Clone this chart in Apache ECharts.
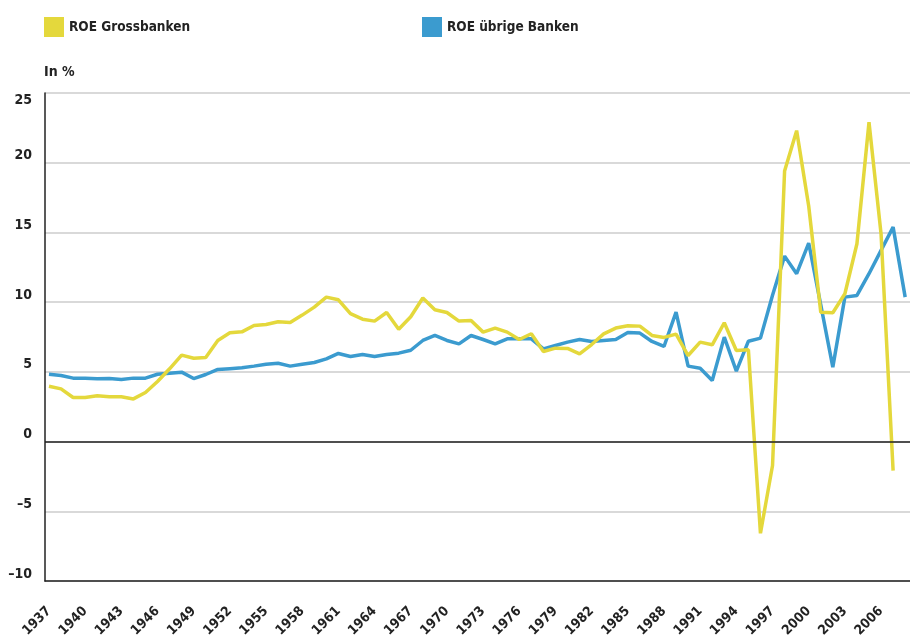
<!DOCTYPE html>
<html lang="de">

<head>
    <meta charset="UTF-8">
    <title>ROE Grossbanken / übrige Banken</title>
    <script src="https://cdn.jsdelivr.net/npm/echarts@6.0.0/dist/echarts.min.js"></script>
    <style>
        html, body { margin: 0; padding: 0; background: #fff; }
        #chart { width: 910px; height: 641px; }
    </style>
</head>

<body>
    <div id="chart"></div>
    <script>
        // Jahre 1937–2008
        var years = [];
        for (var y = 1937; y <= 2008; y++) years.push(y);

        // ROE Grossbanken, in %
        var roeGross = [
            3.97, 3.78, 3.16, 3.16, 3.28, 3.21, 3.21, 3.06, 3.52, 4.31,
            5.22, 6.20, 5.98, 6.03, 7.25, 7.80, 7.87, 8.33, 8.40, 8.59,
            8.54, 9.07, 9.64, 10.36, 10.17, 9.17, 8.78, 8.64, 9.26, 8.06,
            8.95, 10.30, 9.45, 9.26, 8.64, 8.69, 7.85, 8.14, 7.85, 7.32,
            7.73, 6.46, 6.70, 6.68, 6.29, 6.96, 7.72, 8.14, 8.30, 8.28,
            7.61, 7.47, 7.71, 6.17, 7.13, 6.94, 8.52, 6.53, 6.58, -6.58,
            -1.72, 19.4, 22.3, 16.9, 9.28, 9.24, 10.6, 14.19, 22.9, 14.9,
            -2.08, null
        ];

        // ROE übrige Banken, in %
        var roeOther = [
            4.83, 4.74, 4.55, 4.55, 4.50, 4.52, 4.45, 4.55, 4.55, 4.83,
            4.90, 4.98, 4.52, 4.81, 5.17, 5.23, 5.29, 5.41, 5.55, 5.62,
            5.41, 5.55, 5.67, 5.93, 6.32, 6.10, 6.25, 6.10, 6.25, 6.34,
            6.55, 7.25, 7.61, 7.25, 7.01, 7.61, 7.32, 7.01, 7.37, 7.37,
            7.37, 6.65, 6.89, 7.13, 7.32, 7.18, 7.25, 7.32, 7.82, 7.78,
            7.18, 6.82, 9.28, 5.41, 5.26, 4.38, 7.49, 5.05, 7.20, 7.42,
            10.5, 13.3, 12.04, 14.24, 9.8, 5.34, 10.36, 10.48, 12.04, 13.71,
            15.38, 10.36
        ];

        // Beschriftete Jahre auf der x-Achse
        var tickYears = [1937, 1940, 1943, 1946, 1949, 1952, 1955, 1958, 1961, 1964, 1967, 1970,
            1973, 1976, 1979, 1982, 1985, 1988, 1991, 1994, 1997, 2000, 2003, 2006];

        var FONT = "'Liberation Sans Narrow', 'DejaVu Sans Condensed', 'Roboto Condensed', sans-serif";
        var YELLOW = '#e4d83c';
        var BLUE = '#3b9bcf';

        function pairs(vals) {
            return years.map(function (yr, i) { return [yr, vals[i]]; });
        }

        var legendText = { fontSize: 13.5, fontWeight: 'bold', color: '#222', fontFamily: FONT };

        var chart = echarts.init(document.getElementById('chart'));
        chart.setOption({
            animation: false,
            textStyle: { fontFamily: FONT },
            title: {
                text: 'In %',
                left: 44,
                top: 65,
                padding: 0,
                textStyle: { fontSize: 14, fontWeight: 'bold', color: '#222', fontFamily: FONT }
            },
            legend: [{
                left: 44,
                top: 17,
                padding: 0,
                itemWidth: 20,
                itemHeight: 20,
                itemGap: 8,
                icon: 'rect',
                data: ['ROE Grossbanken'],
                textStyle: legendText
            }, {
                left: 422,
                top: 17,
                padding: 0,
                itemWidth: 20,
                itemHeight: 20,
                icon: 'rect',
                data: ['ROE übrige Banken'],
                textStyle: legendText
            }],
            grid: {
                left: 45,
                right: 0,
                top: 93,
                bottom: 60
            },
            xAxis: {
                type: 'value',
                min: 1936.67,
                max: 2008.4,
                splitLine: { show: false },
                axisTick: { show: false },
                axisLine: { onZero: false, lineStyle: { color: '#222', width: 1.5 } },
                axisLabel: {
                    customValues: tickYears,
                    rotate: 45,
                    margin: 28,
                    fontSize: 13.5,
                    fontWeight: 'bold',
                    color: '#222',
                    fontFamily: FONT,
                    formatter: function (v) { return String(v); }
                }
            },
            yAxis: {
                type: 'value',
                min: -10,
                max: 25,
                interval: 5,
                axisLine: { show: true, lineStyle: { color: '#222', width: 1.5 } },
                axisTick: { show: false },
                splitLine: { lineStyle: { color: '#cccccc', width: 1.5 } },
                axisLabel: {
                    margin: 13,
                    fontSize: 14,
                    fontWeight: 'bold',
                    color: '#222',
                    fontFamily: FONT,
                    verticalAlign: 'bottom',
                    verticalAlignMaxLabel: 'top',
                    formatter: function (v) { return String(v).replace('-', '\u2013'); }
                }
            },
            series: [{
                name: 'ROE Grossbanken',
                type: 'line',
                data: pairs(roeGross),
                showSymbol: false,
                symbol: 'none',
                color: YELLOW,
                lineStyle: { width: 3.5, color: YELLOW },
                z: 3,
                markLine: {
                    silent: true,
                    symbol: 'none',
                    label: { show: false },
                    lineStyle: { color: '#222', width: 1.5, type: 'solid' },
                    data: [{ yAxis: 0 }]
                }
            }, {
                name: 'ROE übrige Banken',
                type: 'line',
                data: pairs(roeOther),
                showSymbol: false,
                symbol: 'none',
                color: BLUE,
                lineStyle: { width: 3.5, color: BLUE },
                z: 2
            }]
        });
    </script>
</body>

</html>
